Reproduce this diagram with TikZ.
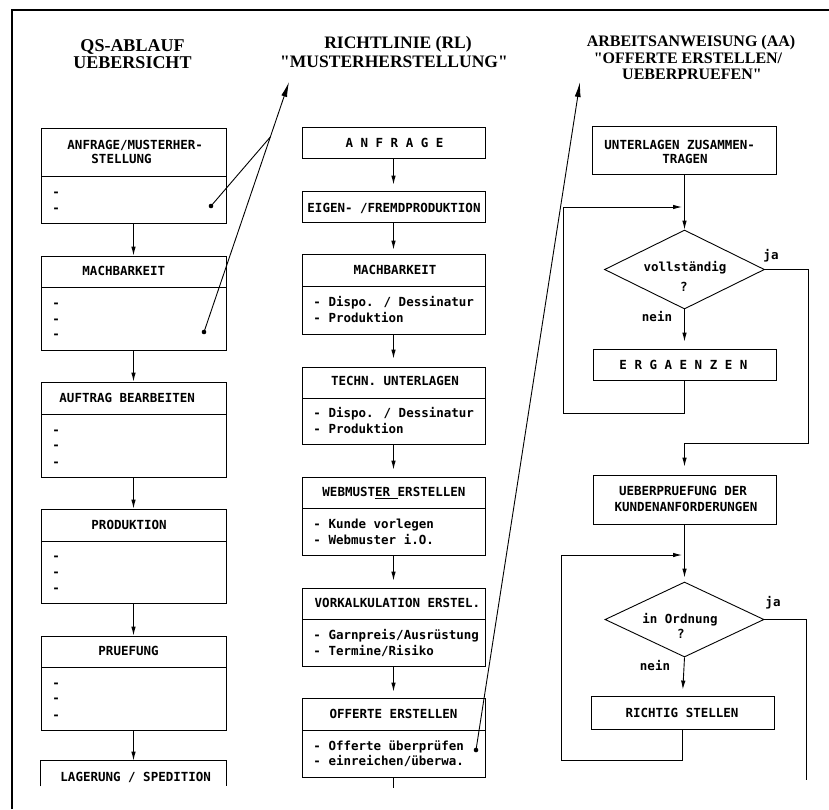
\documentclass[tikz,border=0pt]{standalone}
\usepackage{fontspec}
\setmainfont{Liberation Serif}
\newfontfamily\plotfont{DejaVu Sans Mono}
\usetikzlibrary{arrows.meta,shapes.geometric}
\tikzset{
  box/.style={draw, inner sep=0pt},
  txt/.style={font=\plotfont\bfseries\fontsize{12.5}{14}\selectfont, inner sep=0pt, text height=9pt, text depth=0pt},
  tl/.style={txt, anchor=west},
  ttl/.style={font=\bfseries\fontsize{#1}{#1}\selectfont, inner sep=0pt, anchor=base},
  arr/.style={-{Latex[length=9pt,width=4.5pt]}},
  bigarr/.style={-{Latex[length=15pt,width=6pt]}},
  dot/.style={circle, fill, inner sep=0pt, minimum size=4.6pt}
}
\begin{document}
\begin{tikzpicture}[x=1pt,y=-1pt,line width=0.9pt]
\useasboundingbox (0,0) rectangle (829,809);
% frame
\draw[line width=1.6pt] (12,809) -- (12,10) -- (829,10);

% titles
\node[ttl=18] (tL1) at (132.5,51) {QS-ABLAUF};
\node[ttl=18] (tL2) at (132.5,68) {UEBERSICHT};
\node[ttl=17.5] (tM1) at (398,48) {RICHTLINIE (RL)};
\node[ttl=17.5] (tM2) at (394,67) {\textquotedbl MUSTERHERSTELLUNG\textquotedbl};
\node[ttl=16] (tR1) at (691,46.5) {ARBEITSANWEISUNG (AA)};
\node[ttl=16] (tR2) at (688,63) {\textquotedbl OFFERTE ERSTELLEN/};
\node[ttl=16] (tR3) at (692,79.5) {UEBERPRUEFEN\textquotedbl};

% ---------------- left column
\node[box, minimum width=185pt, minimum height=48pt] (L1h) at (133.5,152) {};
\node[box, minimum width=185pt, minimum height=47pt] (L1b) at (133.5,199.5) {};
\node[box, minimum width=185pt, minimum height=31pt] (L2h) at (133.5,271.5) {};
\node[box, minimum width=185pt, minimum height=63pt] (L2b) at (133.5,318.5) {};
\node[box, minimum width=185pt, minimum height=32pt] (L3h) at (133.5,398) {};
\node[box, minimum width=185pt, minimum height=63pt] (L3b) at (133.5,445.5) {};
\node[box, minimum width=185pt, minimum height=32pt] (L4h) at (133.5,525) {};
\node[box, minimum width=185pt, minimum height=62pt] (L4b) at (133.5,572) {};
\node[box, minimum width=185pt, minimum height=31pt] (L5h) at (133.5,651.5) {};
\node[box, minimum width=185pt, minimum height=63pt] (L5b) at (133.5,698.5) {};
\node[inner sep=0pt, minimum width=185pt, minimum height=25pt] (L6) at (133.5,773.5) {};
\draw (L6.south west) -- (L6.north west) -- (L6.north east) -- (L6.south east);

\node[tl] (xL1a) at (67,145) {ANFRAGE/MUSTERHER-};
\node[tl] (xL1b) at (91,159) {STELLUNG};
\node[tl] (xL2) at (82,271) {MACHBARKEIT};
\node[tl] (xL3) at (59,398) {AUFTRAG BEARBEITEN};
\node[tl] (xL4) at (91,525) {PRODUKTION};
\node[tl] (xL5) at (98,651) {PRUEFUNG};
\node[tl] (xL6) at (60,777) {LAGERUNG / SPEDITION};
\foreach \yy [count=\i] in {192,208, 303,319,334, 430,445,462, 556,572,588, 683,698,715}
  \node[tl] (dash\i) at (52,\yy) {-};

\draw[arr] (L1b.south) -- (L2h.north);
\draw[arr] (L2b.south) -- (L3h.north);
\draw[arr] (L3b.south) -- (L4h.north);
\draw[arr] (L4b.south) -- (L5h.north);
\draw[arr] (L5b.south) -- (L6.north);

% ---------------- middle column
\node[box, minimum width=183pt, minimum height=31pt] (M1) at (393.5,142.5) {};
\node[box, minimum width=183pt, minimum height=31pt] (M2) at (393.5,206.5) {};
\node[box, minimum width=183pt, minimum height=32pt] (M3h) at (393.5,270) {};
\node[box, minimum width=183pt, minimum height=48pt] (M3b) at (393.5,310) {};
\node[box, minimum width=183pt, minimum height=31pt] (M4h) at (393.5,382.5) {};
\node[box, minimum width=183pt, minimum height=46pt] (M4b) at (393.5,421) {};
\node[box, minimum width=183pt, minimum height=31pt] (M5h) at (393.5,492.5) {};
\node[box, minimum width=183pt, minimum height=47pt] (M5b) at (393.5,531.5) {};
\node[box, minimum width=183pt, minimum height=31pt] (M6h) at (393.5,603.5) {};
\node[box, minimum width=183pt, minimum height=47pt] (M6b) at (393.5,642.5) {};
\node[box, minimum width=183pt, minimum height=32pt] (M7h) at (393.5,714) {};
\node[box, minimum width=183pt, minimum height=47pt] (M7b) at (393.5,753.5) {};

\node[txt] (xM1) at (394.5,143) {A N F R A G E};
\node[txt] (xM2) at (394,208) {EIGEN- /FREMDPRODUKTION};
\node[txt] (xM3) at (395,270) {MACHBARKEIT};
\node[txt] (xM4) at (395,381) {TECHN. UNTERLAGEN};
\node[tl] (xM5) at (322,492) {WEBMUST\underline{ER\ }ERSTELLEN};
\node[txt] (xM6) at (397.5,603) {VORKALKULATION ERSTEL.};
\node[txt] (xM7) at (393.5,714) {OFFERTE ERSTELLEN};
\node[tl] (bM3a) at (313,302) {- Dispo. / Dessinatur};
\node[tl] (bM3b) at (313,318) {- Produktion};
\node[tl] (bM4a) at (313,413) {- Dispo. / Dessinatur};
\node[tl] (bM4b) at (313,429) {- Produktion};
\node[tl] (bM5a) at (313,524) {- Kunde vorlegen};
\node[tl] (bM5b) at (313,540) {- Webmuster i.O.};
\node[tl] (bM6a) at (313,635) {- Garnpreis/Ausrüstung};
\node[tl] (bM6b) at (313,651) {- Termine/Risiko};
\node[tl] (bM7a) at (313,746) {- Offerte überprüfen};
\node[tl] (bM7b) at (313,761) {- einreichen/überwa.};

\draw[arr, shorten >=6pt] (M1.south) -- (M2.north);
\draw[arr, shorten >=4pt] (M2.south) -- (M3h.north);
\draw[arr, shorten >=8pt] (M3b.south) -- (M4h.north);
\draw[arr, shorten >=7pt] (M4b.south) -- (M5h.north);
\draw[arr, shorten >=7pt] (M5b.south) -- (M6h.north);
\draw[arr, shorten >=6pt] (M6b.south) -- (M7h.north);
\coordinate (mEnd) at (393.5,788);
\draw (M7b.south) -- (mEnd);

% ---------------- right column
\node[box, minimum width=184pt, minimum height=48pt] (R1) at (684.5,150) {};
\node[draw, diamond, inner sep=0pt, minimum width=160pt, minimum height=79pt] (D1) at (684.5,269.5) {};
\node[box, minimum width=183pt, minimum height=31pt] (R2) at (684.5,364.5) {};
\node[box, minimum width=183pt, minimum height=49pt] (R3) at (684.5,499.5) {};
\node[draw, diamond, inner sep=0pt, minimum width=159pt, minimum height=75pt] (D2) at (684.5,619.5) {};
\node[box, minimum width=183pt, minimum height=33pt] (R4) at (682.5,712.5) {};

\node[tl] (xR1a) at (604,145) {UNTERLAGEN ZUSAMMEN-};
\node[tl] (xR1b) at (662,159) {TRAGEN};
\node[txt] (xD1a) at (685,267) {vollständig};
\node[txt] (xD1b) at (684,287) {?};
\node[tl] (xR2) at (619,365) {E R G A E N Z E N};
\node[txt] (xR3a) at (683,491) {UEBERPRUEFUNG DER};
\node[txt] (xR3b) at (686,507) {KUNDENANFORDERUNGEN};
\node[txt] (xD2a) at (680,619) {in Ordnung};
\node[txt] (xD2b) at (681,634) {?};
\node[txt] (xR4) at (682,713) {RICHTIG STELLEN};
\node[txt] (ja1) at (771,255) {ja};
\node[txt] (nein1) at (657,317) {nein};
\node[txt] (ja2) at (773,602) {ja};
\node[txt] (nein2) at (655,666) {nein};

\draw[arr] (R1.south) -- (D1.north);
\draw[arr, shorten >=7pt] (D1.south) -- (R2.north);
\coordinate (lpA1) at (563,413);
\coordinate (lpA2) at (563,207);
\coordinate (lpA3) at (682,207);
\draw[arr] (R2.south) |- (lpA1) -- (lpA2) -- (lpA3);
\coordinate (yaA1) at (808,443);
\draw[arr, shorten >=8pt] (D1.east) -| (yaA1) -| (R3.north);

\draw[arr, shorten >=4pt] (R3.south) -- (D2.north);
\draw[arr, shorten >=6pt] (D2.south) -- (R4.north);
\coordinate (lpB1) at (561,760);
\coordinate (lpB2) at (561,555);
\coordinate (lpB3) at (682,555);
\draw[arr] (R4.south) |- (lpB1) -- (lpB2) -- (lpB3);
\coordinate (yaB1) at (806,780);
\draw (D2.east) -| (yaB1);

% ---------------- long reference arrows
\node[dot] (dA) at (211,206) {};
\node[dot] (dB) at (204,332) {};
\coordinate (tA) at (289,82);
\draw[bigarr] (dB.center) -- coordinate[pos=0.78] (xA) (tA);
\draw (dA.center) -- (xA);
\node[dot] (dC) at (476,750) {};
\coordinate (tC) at (580,82);
\draw[bigarr] (dC.center) -- (tC);
\end{tikzpicture}
\end{document}
